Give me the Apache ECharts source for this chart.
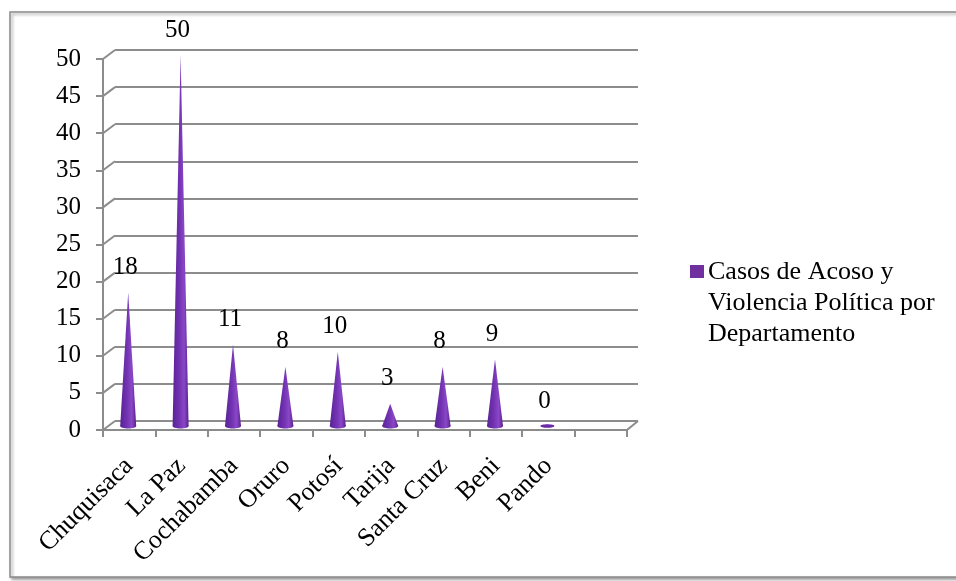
<!DOCTYPE html>
<html>
<head>
<meta charset="utf-8">
<script src="https://cdn.jsdelivr.net/npm/echarts@6/dist/echarts.min.js"></script>
<style>
html,body{margin:0;padding:0;background:#fff;}
#chart{width:956px;height:581px;}
</style>
</head>
<body>
<div id="chart"></div>
<script>
var categories = ['Chuquisaca', 'La Paz', 'Cochabamba', 'Oruro', 'Potosí', 'Tarija', 'Santa Cruz', 'Beni', 'Pando', ''];
var values = [18, 50, 11, 8, 10, 3, 8, 9, 0];
var seriesName = 'Casos de Acoso y\nViolencia Política por\nDepartamento';
var yTicks = [0, 5, 10, 15, 20, 25, 30, 35, 40, 45, 50];

var FONT = '"Liberation Serif", "Times New Roman", serif';
var GRAY = '#8c8c8c';
var PURPLE = '#7030A0';
var DX = 12, DY = -9;

var chart = echarts.init(document.getElementById('chart'));

var coneData = values.map(function (v, i) { return [i, v]; });
var tickData = yTicks.map(function (v) { return [0, v]; });

chart.setOption({
  animation: false,
  backgroundColor: '#fff',
  graphic: [{
    type: 'rect',
    z: -10,
    silent: true,
    shape: { x: 10, y: 12, width: 960, height: 565 },
    style: {
      fill: '#fff', stroke: '#8a8a8a', lineWidth: 1.5,
      shadowBlur: 3, shadowColor: 'rgba(0,0,0,0.35)', shadowOffsetX: 2, shadowOffsetY: 2
    }
  }, {
    type: 'rect',
    silent: true,
    shape: { x: 690, y: 265, width: 14, height: 13 },
    style: { fill: PURPLE }
  }, {
    type: 'text',
    silent: true,
    style: {
      text: seriesName,
      x: 708, y: 256.5,
      font: '26px ' + FONT,
      lineHeight: 31,
      fill: '#000',
      textAlign: 'left',
      textVerticalAlign: 'top'
    }
  }],
  grid: [
    { left: 103, top: 59, width: 524, height: 371 },
    { left: 115, top: 50, width: 523, height: 371 }
  ],
  xAxis: [{
    gridIndex: 0,
    type: 'category',
    data: categories,
    boundaryGap: true,
    axisLine: { show: true, lineStyle: { color: GRAY, width: 2 } },
    axisTick: { show: true, length: 7, alignWithLabel: false, lineStyle: { color: GRAY, width: 2 } },
    axisLabel: {
      interval: 0, rotate: 45, margin: 32,
      fontFamily: FONT, fontSize: 26, color: '#000'
    },
    splitLine: { show: false }
  }, {
    gridIndex: 1,
    type: 'category',
    data: categories,
    show: false
  }],
  yAxis: [{
    gridIndex: 0,
    type: 'value',
    min: 0, max: 50, interval: 5,
    axisLine: { show: true, lineStyle: { color: GRAY, width: 2 } },
    axisTick: { show: true, length: 7, lineStyle: { color: GRAY, width: 2 } },
    axisLabel: { margin: 22, fontFamily: FONT, fontSize: 25, color: '#000' },
    splitLine: { show: false }
  }, {
    gridIndex: 1,
    type: 'value',
    min: 0, max: 50, interval: 5,
    axisLine: { show: false },
    axisTick: { show: false },
    axisLabel: { show: false },
    splitLine: { show: true, lineStyle: { color: GRAY, width: 2 } }
  }],
  series: [{
    type: 'custom',
    name: 'connectors',
    xAxisIndex: 0, yAxisIndex: 0,
    silent: true,
    data: tickData,
    z: 1,
    renderItem: function (params, api) {
      var cs = params.coordSys;
      var y = api.coord([0, api.value(1)])[1];
      var children = [{
        type: 'line',
        shape: { x1: cs.x, y1: y, x2: cs.x + DX, y2: y + DY },
        style: { stroke: GRAY, lineWidth: 2 }
      }];
      if (api.value(1) === 0) {
        children.push({
          type: 'line',
          shape: { x1: cs.x + cs.width, y1: y, x2: cs.x + cs.width + 11, y2: y + DY },
          style: { stroke: GRAY, lineWidth: 2 }
        });
      }
      return { type: 'group', children: children };
    }
  }, {
    type: 'custom',
    name: seriesName,
    xAxisIndex: 0, yAxisIndex: 0,
    data: coneData,
    z: 5,
    itemStyle: { color: PURPLE },
    renderItem: function (params, api) {
      var v = api.value(1);
      var base = api.coord([api.value(0), 0]);
      var tip = api.coord([api.value(0), v]);
      var bx = base[0] - 1, by = base[1] - 4;
      var ty = tip[1] - 4;
      var hw = 8;
      var grad = new echarts.graphic.LinearGradient(0, 0, 1, 0, [
        { offset: 0, color: '#5a2296' },
        { offset: 0.45, color: '#7434b4' },
        { offset: 0.72, color: '#8a48c6' },
        { offset: 1, color: '#5a1f90' }
      ]);
      var children = [];
      if (v > 0) {
        children.push({
          type: 'polygon',
          shape: { points: [[bx - hw, by], [bx + hw, by], [bx, ty]] },
          style: { fill: grad }
        });
        children.push({
          type: 'ellipse',
          shape: { cx: bx, cy: by, rx: hw, ry: 2.5 },
          style: { fill: grad }
        });
      } else {
        children.push({
          type: 'ellipse',
          shape: { cx: bx, cy: by, rx: 7, ry: 1.8 },
          style: { fill: '#6a2aa6' }
        });
      }
      children.push({
        type: 'text',
        style: {
          text: String(v),
          x: bx - 3, y: ty - 25,
          textAlign: 'center', textVerticalAlign: 'middle',
          font: '25px ' + FONT, fill: '#000'
        }
      });
      return { type: 'group', children: children };
    }
  }]
});
</script>
</body>
</html>
